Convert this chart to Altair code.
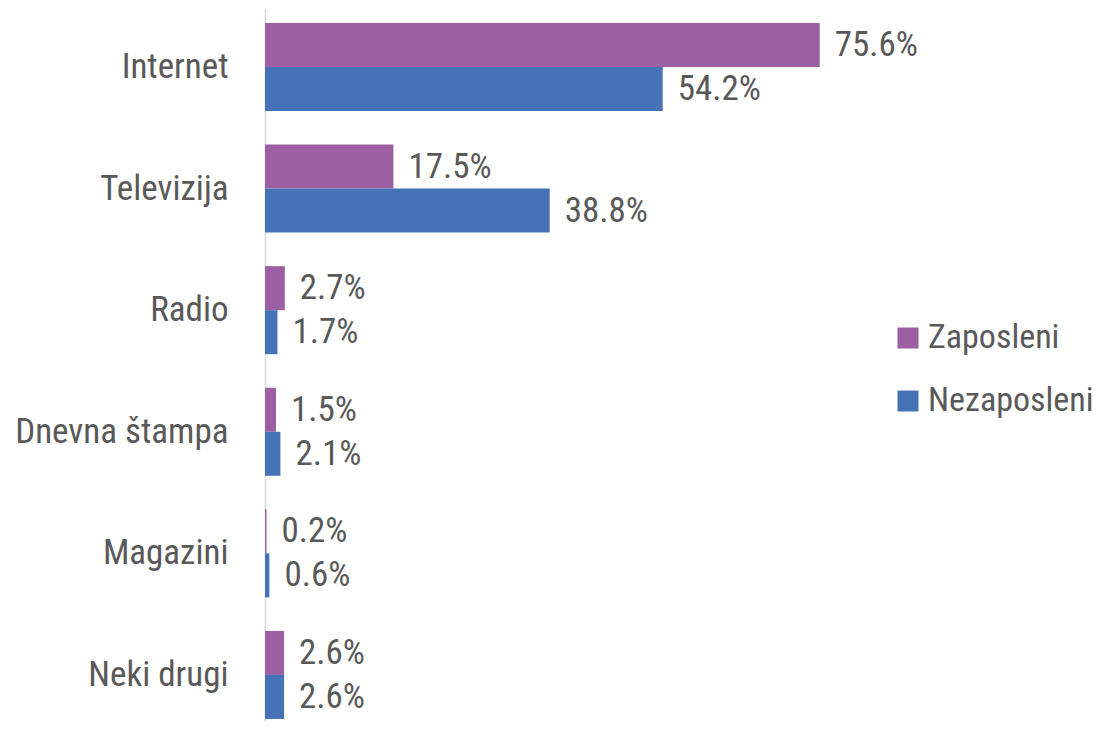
import altair as alt
import pandas as pd

categories = ["Internet", "Televizija", "Radio", "Dnevna štampa", "Magazini", "Neki drugi"]
zaposleni = [75.6, 17.5, 2.7, 1.5, 0.2, 2.6]
nezaposleni = [54.2, 38.8, 1.7, 2.1, 0.6, 2.6]
series = ["Zaposleni", "Nezaposleni"]
colors = ["#9C5FA2", "#4672B8"]

rows = []
for c, z, n in zip(categories, zaposleni, nezaposleni):
    rows.append({"Kategorija": c, "Grupa": series[0], "Vrednost": z})
    rows.append({"Kategorija": c, "Grupa": series[1], "Vrednost": n})
df = pd.DataFrame(rows)

FONT = "Liberation Sans Narrow, Roboto Condensed, Arial Narrow, DejaVu Sans Condensed, sans-serif"
TXT = "#595959"

base = alt.Chart(df).encode(
    y=alt.Y("Kategorija:N", sort=categories, title=None,
            scale=alt.Scale(paddingInner=0.276, paddingOuter=0.07, align=0.88),
            axis=alt.Axis(ticks=False, domainColor="#D9D9D9", domainWidth=1.5,
                          labelFont=FONT, labelFontSize=35, labelColor=TXT,
                          labelPadding=37, labelLimit=400)),
    yOffset=alt.YOffset("Grupa:N", sort=series,
                        scale=alt.Scale(paddingInner=0, paddingOuter=0)),
)

bars = base.mark_bar().encode(
    x=alt.X("Vrednost:Q", scale=alt.Scale(domain=[0, 80]), axis=None),
    color=alt.Color("Grupa:N", sort=series,
                    scale=alt.Scale(domain=series, range=colors),
                    legend=alt.Legend(title=None, orient="none", legendX=626, legendY=313,
                                      symbolType="square", symbolSize=441,
                                      symbolStrokeWidth=0, labelFont=FONT,
                                      labelFontSize=34, labelColor=TXT,
                                      labelOffset=3, rowPadding=29, padding=0,
                                      labelLimit=400)),
)

labels = base.mark_text(align="left", baseline="middle", dx=15,
                        font=FONT, fontSize=35, color=TXT).transform_calculate(
    label="format(datum.Vrednost, '.1f') + '%'"
).encode(
    x=alt.X("Vrednost:Q", scale=alt.Scale(domain=[0, 80]), axis=None),
    text="label:N",
)

chart = alt.layer(bars, labels).properties(
    width=587, height=713,
    background="white",
    autosize=alt.AutoSizeParams(type="none"),
    padding={"left": 257, "top": 0, "right": 244, "bottom": 0},
).configure_view(stroke=None)

chart.save("out.html", embed_options={"renderer": "svg", "actions": False})
